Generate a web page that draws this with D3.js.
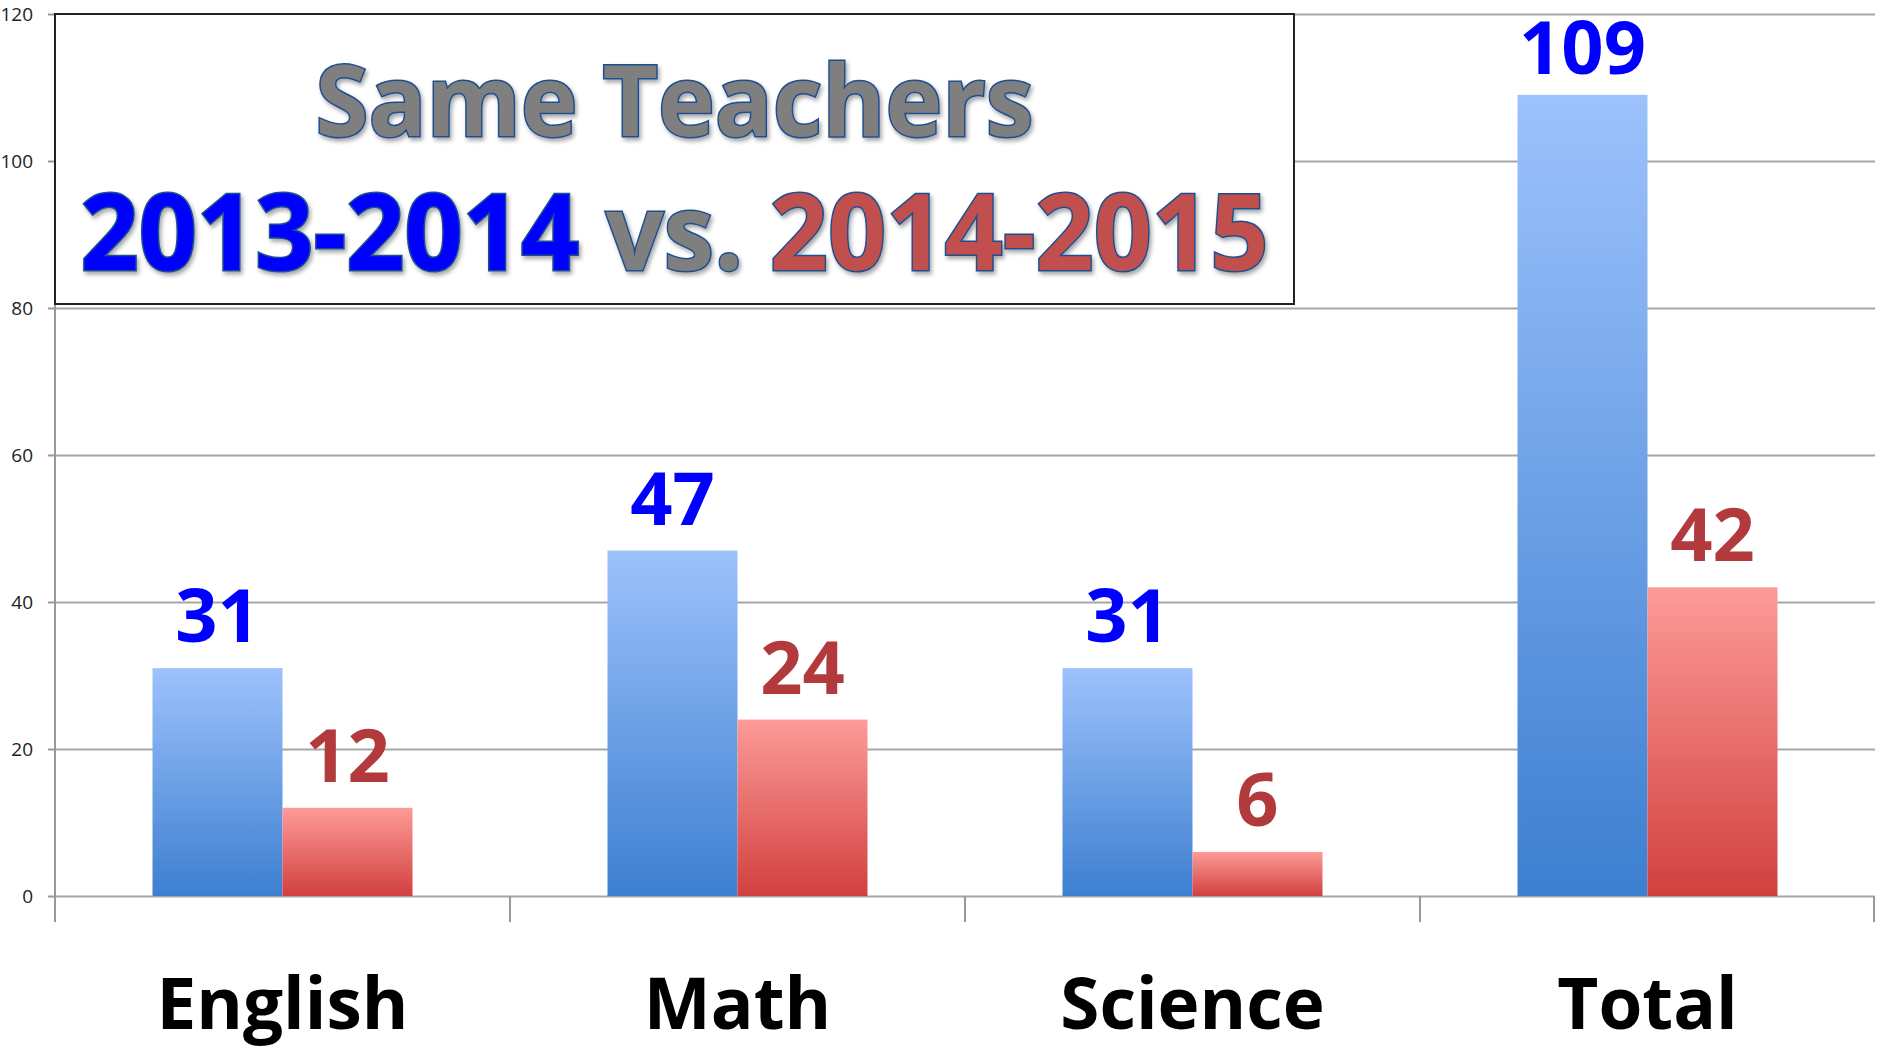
<!DOCTYPE html>
<html>
 <head>
  <meta charset="utf-8" />
  <title>Same Teachers 2013-2014 vs. 2014-2015</title>
  <style>
   body, html {
    margin: 0;
    padding: 0;
    overflow: hidden;
    background: #fff;
   }
   svg {
    display: block;
   }
   .tick text {
    font-family: "Open Sans", sans-serif;
    font-size: 19px;
    fill: #222;
   }
  </style>
  <script src="https://cdnjs.cloudflare.com/ajax/libs/d3/7.9.0/d3.min.js"></script>
 </head>
 <body>
  <svg></svg>
  <script>
   // data
   const categories = ["English", "Math", "Science", "Total"];
   const seriesNames = ["2013-2014", "2014-2015"];
   const values2013 = [31, 47, 31, 109];
   const values2014 = [12, 24, 6, 42];
   const yTicks = [0, 20, 40, 60, 80, 100, 120];

   const width = 1878;
   const height = 1049;
   const plotLeft = 55, plotRight = 1875, plotTop = 14, plotBottom = 896;

   const rows = categories.map((c, i) => ({cat: c, vals: [values2013[i], values2014[i]]}));

   const svg = d3.select("svg").attr("width", width).attr("height", height);
   const defs = svg.append("defs");

   const grads = [
    {id: "gBlue", top: "#9dc2fc", bottom: "#3d7fd0"},
    {id: "gRed", top: "#fd9b98", bottom: "#d1403f"}
   ];
   grads.forEach(g => {
    const lg = defs.append("linearGradient")
     .attr("id", g.id)
     .attr("x1", 0).attr("y1", 0).attr("x2", 0).attr("y2", 1);
    lg.append("stop").attr("offset", "0%").attr("stop-color", g.top);
    lg.append("stop").attr("offset", "100%").attr("stop-color", g.bottom);
   });

   defs.append("filter")
    .attr("id", "shadow")
    .attr("x", "-5%").attr("y", "-20%").attr("width", "110%").attr("height", "140%")
    .append("feDropShadow")
    .attr("dx", 2).attr("dy", 3)
    .attr("stdDeviation", 2)
    .attr("flood-color", "#000")
    .attr("flood-opacity", 0.35);

   const y = d3.scaleLinear().domain([0, 120]).range([plotBottom, plotTop]);
   const x0 = d3.scaleBand().domain(categories).range([plotLeft, plotRight]);
   const bw = x0.bandwidth();
   // gap width 150% -> bar = band / 3.5
   const edge = bw * 0.75 / 3.5;
   const x1 = d3.scaleBand().domain(seriesNames).range([edge, bw - edge]);

   // gridlines
   svg.append("g")
    .attr("transform", `translate(${plotLeft},0)`)
    .call(d3.axisLeft(y).tickValues(yTicks).tickSize(-(plotRight - plotLeft)).tickFormat(""))
    .call(g => g.select(".domain").remove())
    .call(g => g.selectAll("line").attr("stroke", "#a6a6a6").attr("stroke-width", 2));

   // y axis
   svg.append("g")
    .attr("transform", `translate(${plotLeft},0)`)
    .call(d3.axisLeft(y).tickValues(yTicks).tickSize(7).tickPadding(15))
    .call(g => g.select(".domain").remove())
    .call(g => g.selectAll("line").attr("stroke", "#999").attr("stroke-width", 2));

   svg.append("line")
    .attr("x1", plotLeft).attr("x2", plotLeft)
    .attr("y1", plotTop).attr("y2", plotBottom + 26)
    .attr("stroke", "#999").attr("stroke-width", 2);

   // category separators below the axis
   const seps = categories.map(c => x0(c)).concat([plotRight - 1]);
   svg.append("g").selectAll("line")
    .data(seps)
    .enter().append("line")
    .attr("x1", d => d).attr("x2", d => d)
    .attr("y1", plotBottom).attr("y2", plotBottom + 26)
    .attr("stroke", "#999").attr("stroke-width", 2);

   // bars
   const group = svg.append("g").selectAll("g")
    .data(rows)
    .enter().append("g")
    .attr("transform", d => `translate(${x0(d.cat)},0)`);

   group.selectAll("rect")
    .data(d => d.vals.map((v, i) => ({name: seriesNames[i], v: v, i: i})))
    .enter().append("rect")
    .attr("x", d => x1(d.name))
    .attr("y", d => y(d.v))
    .attr("width", x1.bandwidth())
    .attr("height", d => plotBottom - y(d.v))
    .attr("fill", d => d.i === 0 ? "url(#gBlue)" : "url(#gRed)");

   // value labels, kept inside the plot area like the original
   group.selectAll("text")
    .data(d => d.vals.map((v, i) => ({name: seriesNames[i], v: v, i: i})))
    .enter().append("text")
    .attr("x", d => x1(d.name) + x1.bandwidth() / 2)
    .attr("y", d => Math.max(y(d.v) - 26, plotTop + 60))
    .attr("text-anchor", "middle")
    .attr("font-family", "'Open Sans', sans-serif")
    .attr("font-weight", 700)
    .attr("font-size", 74)
    .attr("fill", d => d.i === 0 ? "#0000ff" : "#b2393c")
    .text(d => d.v);

   // category labels
   svg.append("g").selectAll("text")
    .data(categories)
    .enter().append("text")
    .attr("x", d => x0(d) + bw / 2)
    .attr("y", 1029)
    .attr("text-anchor", "middle")
    .attr("font-family", "'Open Sans', sans-serif")
    .attr("font-weight", 700)
    .attr("font-size", 71)
    .attr("fill", "#000")
    .text(d => d);

   // title box
   const boxX = plotLeft, boxY = plotTop, boxW = 1294 - plotLeft, boxH = 304 - plotTop;
   svg.append("rect")
    .attr("x", boxX).attr("y", boxY)
    .attr("width", boxW).attr("height", boxH)
    .attr("fill", "#fff")
    .attr("stroke", "#222").attr("stroke-width", 2);

   const cx = boxX + boxW / 2;

   svg.append("text")
    .attr("x", cx).attr("y", 136)
    .attr("text-anchor", "middle")
    .attr("font-family", "'Open Sans', sans-serif")
    .attr("font-weight", 700)
    .attr("font-size", 98)
    .attr("textLength", 718)
    .attr("lengthAdjust", "spacingAndGlyphs")
    .attr("fill", "#7f7f7f")
    .attr("stroke", "#1f4f8f").attr("stroke-width", 3)
    .attr("paint-order", "stroke")
    .attr("filter", "url(#shadow)")
    .text("Same Teachers");

   const line2 = svg.append("text")
    .attr("x", cx).attr("y", 270)
    .attr("text-anchor", "middle")
    .attr("font-family", "'Open Sans', sans-serif")
    .attr("font-weight", 700)
    .attr("font-size", 105)
    .attr("textLength", 1188)
    .attr("lengthAdjust", "spacingAndGlyphs")
    .attr("stroke", "#1f4f8f").attr("stroke-width", 3)
    .attr("paint-order", "stroke")
    .attr("filter", "url(#shadow)");

   line2.append("tspan").attr("fill", "#0000ff").text(seriesNames[0]);
   line2.append("tspan").attr("fill", "#7f7f7f").text(" vs. ");
   line2.append("tspan").attr("fill", "#c0504d").text(seriesNames[1]);
  </script>
 </body>
</html>
